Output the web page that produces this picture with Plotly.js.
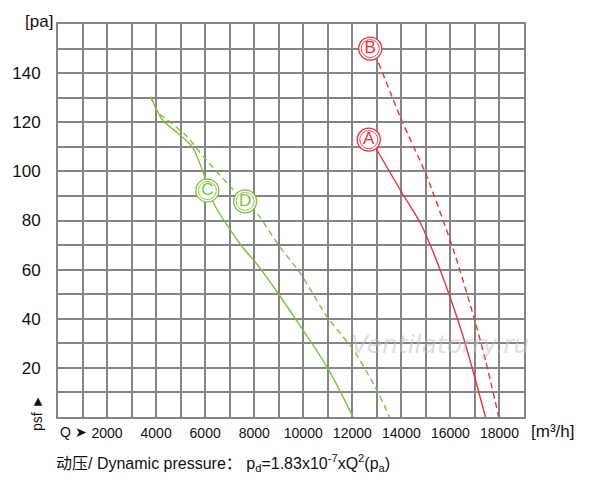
<!DOCTYPE html>
<html>
<head>
<meta charset="utf-8">
<script src="https://cdn.plot.ly/plotly-3.0.1.min.js"></script>
<style>
  body { margin: 0; background: #fff; }
  #chart { width: 600px; height: 492px; }
</style>
</head>
<body>
<div id="chart"></div>
<script>
// curves, Q in m3/h, psf in pa
var curveA_q = [12980, 14030, 14780, 15250, 15930, 16480, 16950, 17430];
var curveA_p = [109.1, 91.2, 78.9, 68.3, 50.4, 34, 17.7, 0];

var curveB_q = [13070, 14030, 14980, 16100, 16950, 17430, 17970];
var curveB_p = [144.2, 120.4, 99.3, 68.7, 40.8, 23.1, 0];

var curveC_q = [3780, 4090, 4300, 4710, 5460, 5930, 6340, 7560, 7970, 8930, 9880, 10970, 12030];
var curveC_p = [130.4, 123.8, 120.4, 117, 110.2, 99.3, 87.1, 68.7, 64, 51, 37, 20.4, 0];

var curveD_q = [3780, 4090, 4440, 5250, 5930, 7020, 8110, 8990, 9880, 10970, 12050, 13000, 13520];
var curveD_p = [130.4, 123.8, 121.1, 114.3, 106, 93.9, 83, 70, 58.5, 40.8, 27.2, 10.9, 0];

// circled letters
var labelNames = ['A', 'B', 'C', 'D'];
var labelQ = [12670, 12730, 6090, 7630];
var labelP = [112.9, 150, 92.2, 87.8];

// ticks
var xTicks = [];
var xTickText = [];
for (var i = 0; i <= 19; i++) {
  xTicks.push(i * 1000);
  xTickText.push(i % 2 === 0 && i >= 2 && i <= 18 ? String(i * 1000) : '');
}
var yTicks = [];
var yTickText = [];
for (var j = 0; j <= 16; j++) {
  yTicks.push(j * 10);
  yTickText.push(j % 2 === 0 && j >= 2 && j <= 14 ? String(j * 10) : '');
}

var red = '#e8333d';
var green = '#7cc242';
var labelColors = [red, red, green, green];

function curve(q, p, color, dash) {
  return {
    x: q, y: p, type: 'scatter', mode: 'lines',
    line: {color: color, width: 1.4, dash: dash, shape: 'spline', smoothing: 0.8},
    hoverinfo: 'skip'
  };
}

var data = [
  curve(curveA_q, curveA_p, red, 'solid'),
  curve(curveB_q, curveB_p, red, '6px,4px'),
  curve(curveC_q, curveC_p, green, 'solid'),
  curve(curveD_q, curveD_p, green, '6px,4px'),
  {
    x: labelQ, y: labelP, type: 'scatter', mode: 'markers',
    marker: {symbol: 'circle', size: 23, color: '#fff', line: {color: labelColors, width: 1.3}},
    hoverinfo: 'skip'
  },
  {
    x: labelQ, y: labelP, type: 'scatter', mode: 'markers+text',
    marker: {symbol: 'circle-open', size: 18, color: labelColors, line: {color: labelColors, width: 0.9}},
    text: labelNames, textposition: 'middle center',
    textfont: {family: 'Liberation Sans, Arial, sans-serif', size: 17, color: labelColors},
    hoverinfo: 'skip'
  }
];

var axisFont = 'Liberation Sans, Arial, Helvetica, sans-serif';

var layout = {
  width: 600, height: 492,
  margin: {l: 58, r: 76, t: 24, b: 75},
  paper_bgcolor: '#fff', plot_bgcolor: '#fff',
  showlegend: false,
  font: {family: axisFont, color: '#111'},
  xaxis: {
    range: [0, 19000], tickmode: 'array', tickvals: xTicks, ticktext: xTickText,
    showgrid: true, gridcolor: '#858585', gridwidth: 2,
    showline: true, mirror: true, linecolor: '#858585', linewidth: 2,
    zeroline: false, ticks: '', tickfont: {size: 14, color: '#111'},
    ticklabelstandoff: 2, fixedrange: true
  },
  yaxis: {
    range: [0, 160], tickmode: 'array', tickvals: yTicks, ticktext: yTickText,
    showgrid: true, gridcolor: '#858585', gridwidth: 2,
    showline: true, mirror: true, linecolor: '#858585', linewidth: 2,
    zeroline: false, ticks: '', tickfont: {size: 17, color: '#111'},
    ticklabelstandoff: 12, fixedrange: true
  },
  annotations: [
    {text: '[pa]', xref: 'paper', yref: 'paper', x: 0, y: 1, xanchor: 'right', yanchor: 'middle',
     xshift: -3, yshift: 3, showarrow: false, font: {size: 17, color: '#111'}},
    {text: 'psf \u25BA', xref: 'paper', yref: 'paper', x: -0.045, y: 0.01, textangle: -90,
     xanchor: 'center', yanchor: 'middle', showarrow: false, font: {size: 14, color: '#111'}},
    {text: 'Q \u27A4', xref: 'paper', yref: 'paper', x: 0, y: 0, xanchor: 'left', yanchor: 'top',
     yshift: -5, showarrow: false, font: {size: 14, color: '#111'}},
    {text: '[m\u00B3/h]', xref: 'paper', yref: 'paper', x: 1, y: 0, xanchor: 'left', yanchor: 'top',
     xshift: 5, yshift: -3, showarrow: false, font: {size: 17, color: '#111'}},
    {text: '\u52A8\u538B/ Dynamic pressure\uFF1A p<sub>d</sub>=1.83x10<sup>-7</sup>xQ<sup>2</sup>(p<sub>a</sub>)',
     xref: 'paper', yref: 'paper', x: -0.008, y: 0, xanchor: 'left', yanchor: 'top',
     yshift: -33, showarrow: false,
     font: {family: 'Liberation Sans, "Noto Sans CJK SC", sans-serif', size: 16, color: '#111'}},
    {text: '<i>Ventilatorry.ru</i>', xref: 'paper', yref: 'paper', x: 0.82, y: 0.185,
     xanchor: 'center', yanchor: 'middle', showarrow: false,
     font: {family: 'DejaVu Sans, sans-serif', size: 25, color: 'rgba(195,195,195,0.55)'}}
  ]
};

Plotly.newPlot('chart', data, layout, {staticPlot: true});
</script>
</body>
</html>
